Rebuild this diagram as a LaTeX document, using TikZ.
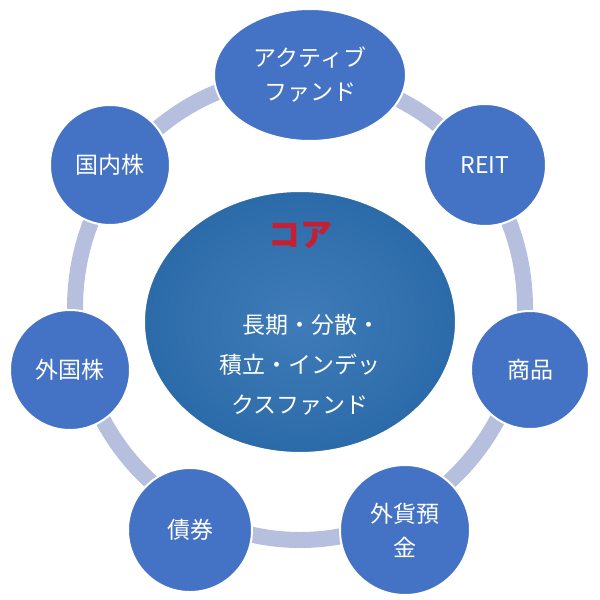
\documentclass[tikz,border=0pt]{standalone}
\usepackage{fontspec}
\usetikzlibrary{shapes.geometric}
\newfontfamily\cjk{Noto Sans CJK JP}
\begin{document}
\begin{tikzpicture}[x=1pt,y=-1pt,
  leaf/.style={circle,fill=nodeblue,draw=white,line width=2pt,text=white,font=\cjk\fontsize{23}{34}\selectfont,align=center,inner sep=0pt},
  ]
\definecolor{nodeblue}{RGB}{68,114,196}
\definecolor{ringc}{RGB}{182,192,222}
\definecolor{corec}{RGB}{46,112,178}
\useasboundingbox (0,0) rectangle (600,600);
\draw[ringc,line width=16pt] (300,308) ellipse (225 and 232);
\node[ellipse,draw=white,line width=2pt,inner color=corec!92!white,outer color=corec!95!black,minimum width=312,minimum height=262] (core) at (300,322) {};
\node[text={rgb,255:red,200;green,30;blue,50},font=\cjk\bfseries\fontsize{32}{36}\selectfont] (ttl) at (300,235) {コア};
\node[text=white,font=\cjk\fontsize{23}{40}\selectfont,align=center] (body) at (300,365) {\hspace{1em}長期・分散・\\積立・インデッ\\クスファンド};
\node[leaf,ellipse,minimum width=192,minimum height=132] (a) at (310,75) {アクティブ\\ファンド};
\node[leaf,minimum size=122] (b) at (485,165) {REIT};
\node[leaf,minimum size=118] (c) at (530,370) {商品};
\node[leaf,minimum size=130] (d) at (405,530) {外貨預\\金};
\node[leaf,minimum size=124] (e) at (190,530) {債券};
\node[leaf,minimum size=120] (f) at (70,370) {外国株};
\node[leaf,minimum size=120] (g) at (110,165) {国内株};
\end{tikzpicture}
\end{document}
